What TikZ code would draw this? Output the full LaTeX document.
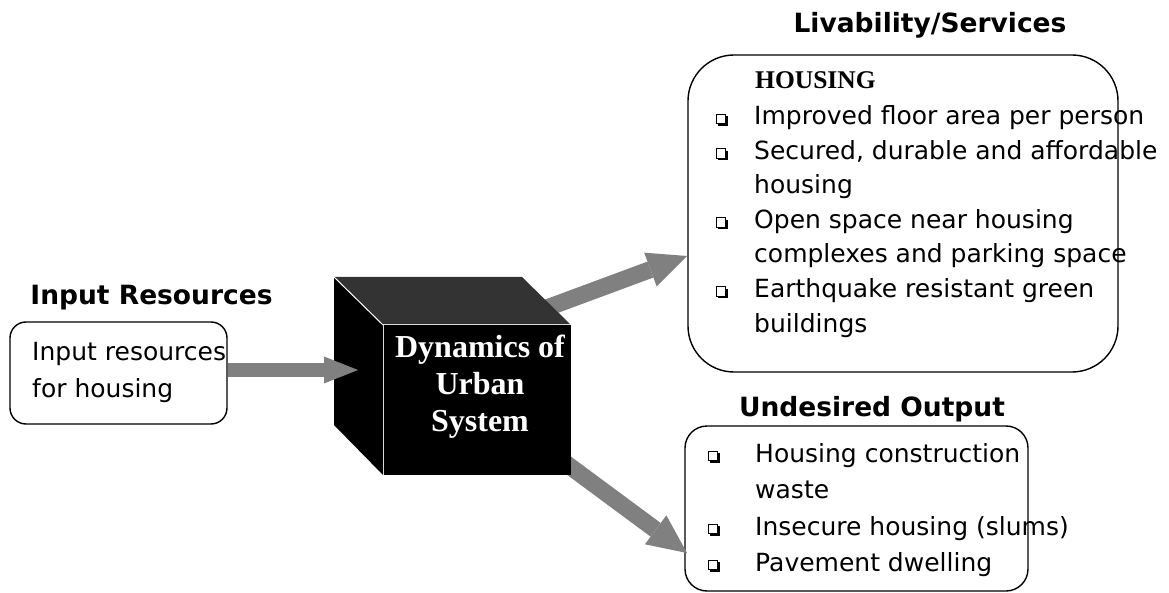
\documentclass[tikz,border=0pt]{standalone}
\usepackage{fontspec}
\setmainfont{DejaVu Sans}
\newfontfamily\serifbold{Liberation Serif}
\usetikzlibrary{arrows.meta,shadows}
\definecolor{arrowgray}{RGB}{128,128,128}
\definecolor{topgray}{RGB}{51,51,51}
\begin{document}
\begin{tikzpicture}[x=1pt,y=-1pt,
  heading/.style={font=\fontsize{26.5}{30}\selectfont\bfseries, inner sep=0pt, anchor=base},
  body/.style={font=\fontsize{25}{30}\selectfont, inner sep=0pt, anchor=base west},
  roundbox/.style={draw=black, line width=1.4pt, inner sep=0pt},
  bul/.style={draw=black, line width=1pt, fill=white, minimum size=9.5pt, inner sep=0pt,
    drop shadow={shadow xshift=2pt, shadow yshift=-2pt, opacity=1, fill=black}},
  flowthin/.style={draw=arrowgray, line width=14pt, -{Triangle[length=34pt,width=27pt,line width=0pt]}},
  flowthick/.style={draw=arrowgray, line width=17pt, -{Triangle[length=39pt,width=36pt,line width=0pt]}},
]
\useasboundingbox (0,0) rectangle (1169,593);

% boxes
\node[roundbox, rounded corners=16pt, minimum width=217pt, minimum height=102pt] (inbox) at (118.5,373) {};
\node[roundbox, rounded corners=46pt, minimum width=430pt, minimum height=317pt] (livbox) at (903,213.5) {};
\node[roundbox, rounded corners=22pt, minimum width=343pt, minimum height=165pt] (outbox) at (856.5,508.5) {};

% headings
\node[heading] (hin) at (151.5,305) {Input Resources};
\node[heading] (hliv) at (930,33) {Livability/Services};
\node[heading] (hout) at (872,416) {Undesired Output};

% arrow coordinates
\coordinate (a2s) at (517,319);
\coordinate (a2t) at (687,256);
\coordinate (a3s) at (541,445);
\coordinate (a3t) at (687,553);
\coordinate (a1t) at (358,370);

% output arrows (under the cube)
\draw[flowthick] (a2s) -- (a2t);
\draw[flowthick] (a3s) -- (a3t);

% cube
\fill[topgray] (334,277) -- (522,277) -- (571,325) -- (383,325) -- cycle;
\fill[black] (334,277) -- (383,325) -- (383,475) -- (334,425) -- cycle;
\node[fill=black, minimum width=188pt, minimum height=150pt, inner sep=0pt, anchor=north west] (cube) at (383,325) {};
\draw[white, line width=1pt] (334,277) -- (cube.north west);
\draw[white!85!black, line width=1pt] (cube.south west) -- (cube.north west) -- (cube.north east);
\node[font=\serifbold\bfseries\fontsize{32}{37}\selectfont, text=white, align=center, inner sep=0pt] (cubetext) at (480,387) {Dynamics of\\Urban\\System};

% input arrow
\draw[flowthin] (inbox.east |- a1t) -- (a1t);

% input box text
\node[body] (in1) at (32,360) {Input resources};
\node[body] (in2) at (32,397) {for housing};

% livability box text
\node[font=\serifbold\bfseries\fontsize{25.5}{30}\selectfont, inner sep=0pt, anchor=base west] (housing) at (755,89) {HOUSING};
\node[body] (l1) at (754,125) {Improved floor area per person};
\node[body] (l2) at (754,159.5) {Secured, durable and affordable};
\node[body] (l3) at (754,194) {housing};
\node[body] (l4) at (754,228.5) {Open space near housing};
\node[body] (l5) at (754,263) {complexes and parking space};
\node[body] (l6) at (754,297.5) {Earthquake resistant green};
\node[body] (l7) at (754,332) {buildings};
\node[bul] (b1) at (721,119) {};
\node[bul] (b2) at (721,153.5) {};
\node[bul] (b4) at (721,222.5) {};
\node[bul] (b6) at (721,291.5) {};

% undesired output text
\node[body] (o1) at (755,462) {Housing construction};
\node[body] (o2) at (755,498) {waste};
\node[body] (o3) at (755,535) {Insecure housing (slums)};
\node[body] (o4) at (755,571) {Pavement dwelling};
\node[bul] (c1) at (713,456) {};
\node[bul] (c3) at (713,529) {};
\node[bul] (c4) at (713,565) {};
\end{tikzpicture}
\end{document}
